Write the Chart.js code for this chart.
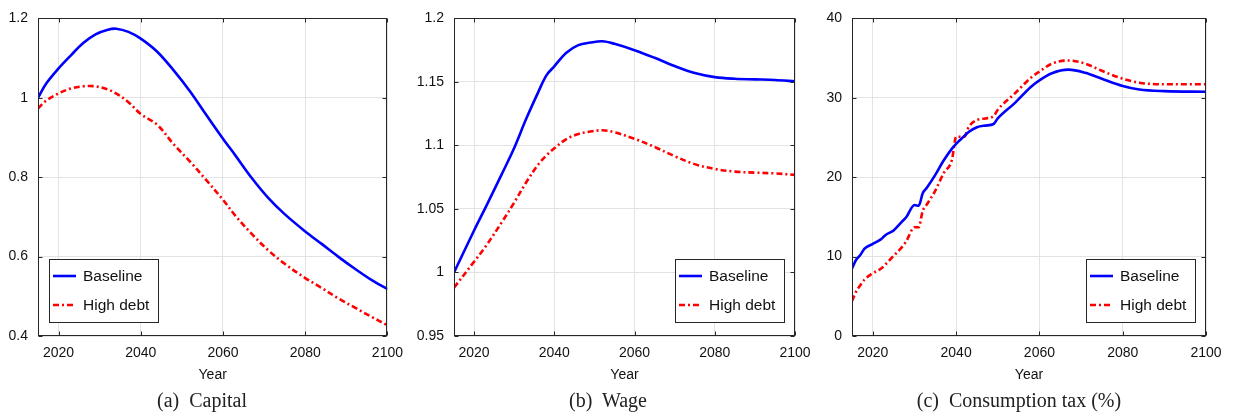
<!DOCTYPE html>
<html lang="en">
<head>
  <meta charset="UTF-8">
  <title>Capital, wage and consumption tax</title>
  <script src="https://cdn.jsdelivr.net/npm/chart.js"></script>
  <style>
    body { margin: 0; background: #fff; }
    #wrap { position: relative; width: 1237px; height: 415px; }
    .panel { position: absolute; top: 0; }
    .cap {
      position: absolute; top: 388px; width: 300px; text-align: center;
      font-family: "Liberation Serif", serif; font-size: 20px; color: #222;
      line-height: 24px;
    }
    .cap span { margin-right: 5px; }
  </style>
</head>
<body>
<div id="wrap">
  <div class="panel" style="left:0"><canvas id="capital" width="412" height="392"></canvas></div>
  <div class="panel" style="left:412px"><canvas id="wage" width="412" height="392"></canvas></div>
  <div class="panel" style="left:824px"><canvas id="tax" width="413" height="392"></canvas></div>
  <div class="cap" style="left:52px"><span>(a)</span> Capital</div>
  <div class="cap" style="left:458px"><span>(b)</span> Wage</div>
  <div class="cap" style="left:869px"><span>(c)</span> Consumption tax (%)</div>
</div>

<script>
  const seriesNames = ['Baseline', 'High debt'];
  const xTicks = [2020, 2040, 2060, 2080, 2100];

  // (a) Capital
  const capitalYears = [2015, 2017, 2020, 2023, 2026, 2029, 2032, 2034, 2037, 2040, 2044, 2048, 2052,
    2056, 2060, 2063, 2067, 2071, 2075, 2080, 2084, 2088, 2092, 2096, 2100];
  const capitalBase = [1.000, 1.036, 1.074, 1.107, 1.138, 1.160, 1.1715, 1.174, 1.166, 1.149, 1.116, 1.069, 1.016,
    0.956, 0.897, 0.855, 0.798, 0.748, 0.707, 0.6635, 0.632, 0.600, 0.570, 0.542, 0.518];
  const capitalHigh = [0.973, 0.993, 1.011, 1.0234, 1.029, 1.029, 1.021, 1.011, 0.989, 0.959, 0.932, 0.883, 0.839,
    0.792, 0.743, 0.703, 0.657, 0.616, 0.582, 0.546, 0.521, 0.495, 0.472, 0.449, 0.427];
  const capitalTicks = [0.4, 0.6, 0.8, 1, 1.2];

  // (b) Wage
  const wageYears = [2015, 2020, 2023, 2027, 2030, 2033, 2036, 2038, 2040, 2043, 2046, 2049, 2052,
    2055, 2060, 2065, 2070, 2075, 2080, 2085, 2090, 2095, 2100];
  const wageBase = [1.000, 1.033, 1.052, 1.078, 1.098, 1.121, 1.142, 1.155, 1.1623, 1.173, 1.179, 1.181, 1.182,
    1.180, 1.175, 1.169, 1.1625, 1.157, 1.1538, 1.1525, 1.152, 1.1515, 1.1504];
  const wageHigh = [0.988, 1.0085, 1.021, 1.040, 1.055, 1.071, 1.085, 1.092, 1.0977, 1.105, 1.109, 1.111, 1.1119,
    1.1104, 1.1052, 1.0988, 1.0915, 1.0853, 1.0815, 1.0794, 1.0786, 1.078, 1.0768];
  const wageTicks = [0.95, 1, 1.05, 1.1, 1.15, 1.2];

  // (c) Consumption tax (%)
  const taxYears = [2015, 2016, 2017, 2018, 2020, 2022, 2023, 2025, 2027, 2028, 2030, 2031, 2032, 2033,
    2035, 2037, 2039, 2040, 2042, 2043, 2045, 2047, 2049, 2050, 2054, 2058, 2060, 2063, 2067, 2071,
    2075, 2080, 2084, 2090, 2100];
  const taxBase = [8.5, 9.6, 10.2, 11.0, 11.6, 12.2, 12.7, 13.3, 14.4, 14.95, 16.5, 16.4, 18.0, 18.7,
    20.3, 22.1, 23.6, 24.2, 25.2, 25.7, 26.3, 26.5, 26.7, 27.4, 29.3, 31.4, 32.2, 33.1, 33.55, 33.15,
    32.4, 31.5, 31.05, 30.84, 30.76];
  const taxHigh = [4.4, 5.6, 6.4, 7.1, 7.9, 8.5, 9.0, 10.1, 11.2, 11.9, 13.7, 13.7, 15.8, 16.6,
    18.3, 20.5, 22.2, 25.1, 25.1, 26.3, 27.2, 27.4, 27.7, 28.5, 30.5, 32.55, 33.3, 34.3, 34.7, 34.3,
    33.4, 32.4, 31.9, 31.7, 31.7];
  const taxTicks = [0, 10, 20, 30, 40];

  const sans = 'Liberation Sans, Arial, sans-serif';
  const ink = '#262626';

  // box around the axes with short inward tick marks on all four sides
  const frame = {
    id: 'frame',
    afterDraw(chart) {
      const { ctx, chartArea: a, scales } = chart;
      const l = Math.round(a.left) + 0.5, r = Math.round(a.right) - 0.5;
      const t = Math.round(a.top) + 0.5, b = Math.round(a.bottom) - 0.5;
      ctx.save();
      ctx.strokeStyle = ink;
      ctx.lineWidth = 1;
      ctx.strokeRect(l, t, r - l, b - t);
      ctx.beginPath();
      scales.x.ticks.forEach(tk => {
        const x = Math.round(scales.x.getPixelForValue(tk.value)) + 0.5;
        ctx.moveTo(x, b); ctx.lineTo(x, b - 4);
        ctx.moveTo(x, t); ctx.lineTo(x, t + 4);
      });
      scales.y.ticks.forEach(tk => {
        const y = Math.round(scales.y.getPixelForValue(tk.value)) + 0.5;
        ctx.moveTo(l, y); ctx.lineTo(l + 4, y);
        ctx.moveTo(r, y); ctx.lineTo(r - 4, y);
      });
      ctx.stroke();
      ctx.restore();
    }
  };

  // boxed legend in the lower corner of the plot area
  const boxLegend = {
    id: 'boxLegend',
    afterDraw(chart, args, opts) {
      const { ctx, chartArea: a } = chart;
      ctx.save();
      ctx.font = '15.5px ' + sans;
      const tw = Math.max(...chart.data.datasets.map(d => ctx.measureText(d.label).width));
      const w = Math.round(34 + tw + 9), h = 63;
      const x0 = opts.side === 'left' ? Math.round(a.left) + 11 : Math.round(a.right) - 11 - w;
      const y0 = Math.round(a.bottom) - 14 - h;
      ctx.fillStyle = '#fff';
      ctx.fillRect(x0, y0, w, h);
      ctx.strokeStyle = ink;
      ctx.lineWidth = 1;
      ctx.strokeRect(x0 + 0.5, y0 + 0.5, w, h);
      chart.data.datasets.forEach((d, i) => {
        const y = y0 + 17 + i * 29;
        ctx.beginPath();
        ctx.setLineDash(d.borderDash || []);
        ctx.strokeStyle = d.borderColor;
        ctx.lineWidth = d.borderWidth;
        ctx.moveTo(x0 + 4, y); ctx.lineTo(x0 + 27, y);
        ctx.stroke();
        ctx.setLineDash([]);
        ctx.fillStyle = '#111';
        ctx.textBaseline = 'middle';
        ctx.fillText(d.label, x0 + 34, y + 1);
      });
      ctx.restore();
    }
  };

  function toPoints(xs, ys) {
    return xs.map((x, i) => ({ x: x, y: ys[i] }));
  }

  function makeChart(id, years, base, high, yTicks, yMin, yMax, axisWidth, padRight, side, smooth) {
    const ctx = document.getElementById(id).getContext('2d');
    const curve = smooth ? { tension: 0.35 } : { cubicInterpolationMode: 'monotone' };
    return new Chart(ctx, {
      type: 'line',
      data: {
        datasets: [Object.assign({
          label: seriesNames[0],
          data: toPoints(years, base),
          borderColor: '#0000ff',
          borderWidth: 2.6,
          pointRadius: 0
        }, curve), Object.assign({
          label: seriesNames[1],
          data: toPoints(years, high),
          borderColor: '#ff0000',
          borderWidth: 2.6,
          borderDash: [6, 3, 2, 3],
          pointRadius: 0
        }, curve)]
      },
      options: {
        responsive: false,
        animation: false,
        events: [],
        layout: { padding: { left: 0, right: padRight, top: 13, bottom: 0 } },
        plugins: {
          legend: { display: false },
          tooltip: { enabled: false },
          boxLegend: { side: side }
        },
        scales: {
          x: {
            type: 'linear',
            min: 2015,
            max: 2100,
            afterBuildTicks: s => { s.ticks = xTicks.map(v => ({ value: v })); },
            afterFit: s => { s.height = 56; },
            grid: { color: '#e3e3e3', drawTicks: false },
            border: { display: false },
            ticks: {
              padding: 9,
              color: '#111',
              font: { family: sans, size: 14 },
              callback: v => String(v)
            },
            title: {
              display: true,
              text: 'Year',
              color: '#111',
              font: { family: sans, size: 14 },
              padding: { top: 0, bottom: 8 }
            }
          },
          y: {
            min: yMin,
            max: yMax,
            afterBuildTicks: s => { s.ticks = yTicks.map(v => ({ value: v })); },
            afterFit: s => { s.width = axisWidth; },
            grid: { color: '#e3e3e3', drawTicks: false },
            border: { display: false },
            ticks: {
              padding: 10,
              color: '#111',
              font: { family: sans, size: 14 },
              callback: v => String(+v.toFixed(2))
            }
          }
        }
      },
      plugins: [frame, boxLegend]
    });
  }

  makeChart('capital', capitalYears, capitalBase, capitalHigh, capitalTicks, 0.4, 1.2, 38, 24, 'left', true);
  makeChart('wage', wageYears, wageBase, wageHigh, wageTicks, 0.95, 1.2, 42, 29, 'right', true);
  makeChart('tax', taxYears, taxBase, taxHigh, taxTicks, 0, 40, 28, 31, 'right', false);
</script>
</body>
</html>
